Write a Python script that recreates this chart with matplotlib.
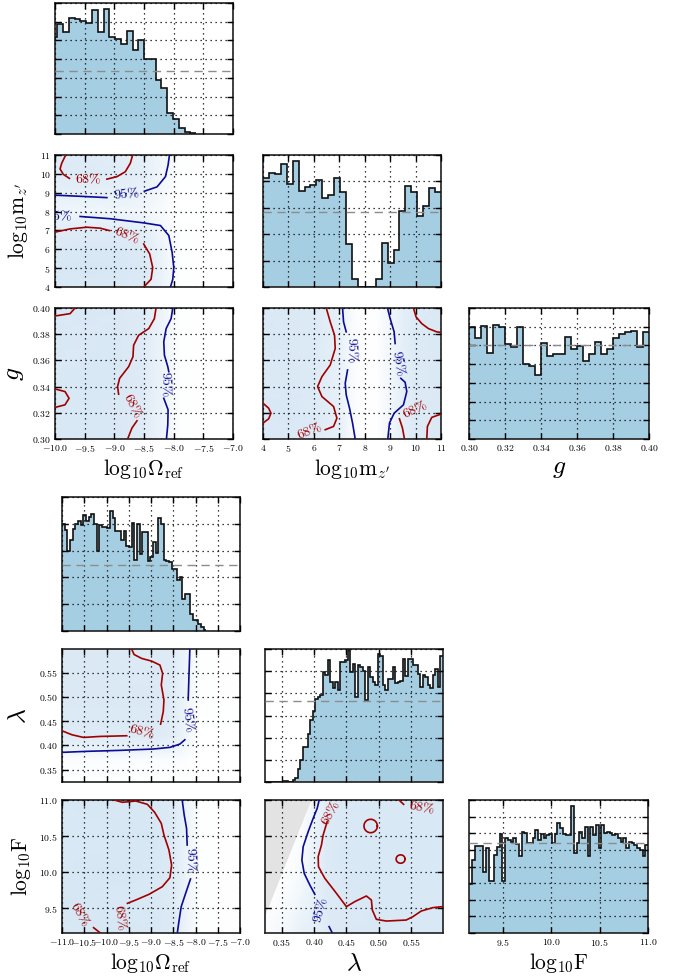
import numpy as np
import matplotlib
matplotlib.use("Agg")
import matplotlib.pyplot as plt
from matplotlib.colors import LinearSegmentedColormap
from matplotlib.ticker import FixedLocator, NullFormatter

plt.rcParams['font.family'] = 'serif'
plt.rcParams['font.serif'] = ['cmr10']
plt.rcParams['mathtext.fontset'] = 'cm'
plt.rcParams['axes.formatter.use_mathtext'] = True
plt.rcParams['axes.unicode_minus'] = True

# ---------------- first run: Omega_ref, m_z', g ----------------
om_ticks = [-10.0, -9.5, -9.0, -8.5, -8.0, -7.5, -7.0]
mz_ticks = [4, 5, 6, 7, 8, 9, 10, 11]
g_ticks = [0.30, 0.32, 0.34, 0.36, 0.38, 0.40]

om_hist_edges = np.linspace(-10.0585, -7.621, 26)
om_hist = [5.17, 5.88, 5.45, 6.19, 6.13, 6.06, 5.92, 6.63, 5.47, 6.67, 5.17, 5.06, 4.81,
           5.51, 4.48, 5.03, 4.01, 4.01, 2.89, 2.44, 1.14, 0.80, 0.30, 0.09, 0.03]
om_hist_mean = 3.37

mz_hist_edges = np.linspace(4.0, 11.0, 31)
mz_hist = [4.11, 4.30, 4.29, 4.66, 3.91, 4.77, 3.63, 3.80, 3.86, 4.05, 3.38, 3.48, 4.11, 3.61, 1.61,
           0.32, 0.0, 0.0, 0.0, 0.32, 1.68, 0.91, 1.42, 2.87, 3.84, 3.58, 2.68, 3.06, 3.76, 3.61]
mz_hist_mean = 2.85

g_hist_edges = np.linspace(0.30, 0.40, 31)
g_hist = [5.97, 5.38, 6.06, 4.58, 6.10, 5.97, 5.06, 4.94, 6.00, 3.99, 3.92, 3.42, 5.12, 4.44, 4.53,
          4.55, 5.47, 4.80, 4.99, 4.19, 4.53, 5.20, 4.55, 4.80, 5.42, 5.62, 5.74, 5.79, 4.90, 5.74]
g_hist_mean = 5.0

# sample density (relative) on coarse grids
om_nodes = [-10.0, -9.5, -9.0, -8.5, -8.2, -7.9, -7.5, -7.0]
mz_nodes = [4, 5, 6, 7, 8, 9, 10, 11]
om_mz_dens = [[0.80, 0.85, 0.85, 0.75, 0.45, 0.05, 0, 0],
              [0.85, 0.90, 0.85, 0.80, 0.45, 0.05, 0, 0],
              [0.80, 0.85, 0.85, 0.75, 0.40, 0.05, 0, 0],
              [0.70, 0.70, 0.70, 0.60, 0.30, 0.05, 0, 0],
              [0.35, 0.35, 0.35, 0.30, 0.15, 0.00, 0, 0],
              [0.55, 0.55, 0.55, 0.45, 0.25, 0.00, 0, 0],
              [0.75, 0.75, 0.70, 0.60, 0.30, 0.05, 0, 0],
              [0.70, 0.70, 0.65, 0.55, 0.30, 0.05, 0, 0]]
g_nodes = [0.30, 0.325, 0.35, 0.375, 0.40]
om_g_dens = [[0.80, 0.85, 0.85, 0.70, 0.40, 0.05, 0, 0],
             [0.85, 0.85, 0.80, 0.70, 0.40, 0.05, 0, 0],
             [0.80, 0.85, 0.85, 0.70, 0.40, 0.05, 0, 0],
             [0.85, 0.80, 0.85, 0.70, 0.40, 0.05, 0, 0],
             [0.80, 0.85, 0.80, 0.70, 0.40, 0.05, 0, 0]]
mz_nodes_fine = [4, 5, 6, 7, 7.5, 8, 8.5, 9, 9.5, 10, 11]
mz_g_dens = [[0.80, 0.80, 0.75, 0.55, 0.15, 0, 0.05, 0.30, 0.60, 0.75, 0.80],
             [0.80, 0.85, 0.75, 0.55, 0.15, 0, 0.05, 0.30, 0.60, 0.75, 0.80],
             [0.80, 0.80, 0.75, 0.50, 0.15, 0, 0.05, 0.30, 0.60, 0.75, 0.80],
             [0.85, 0.80, 0.75, 0.55, 0.15, 0, 0.05, 0.30, 0.60, 0.75, 0.80],
             [0.80, 0.80, 0.75, 0.55, 0.15, 0, 0.05, 0.30, 0.60, 0.75, 0.80]]

# credible-region contours (68% red, 95% blue), split where labels sit
om_mz_68a = [(-9.82, 11.0), (-9.887, 10.56), (-9.915, 10.26), (-9.859, 9.97), (-9.757, 9.76)]
om_mz_68b = [(-9.126, 9.72), (-8.957, 9.85), (-8.816, 10.11), (-8.731, 10.56), (-8.691, 11.0)]
om_mz_68c = [(-10.0, 6.91), (-9.746, 7.08), (-9.464, 7.17), (-9.239, 7.12), (-9.081, 6.99)]
om_mz_68d = [(-8.505, 6.28), (-8.404, 5.75), (-8.353, 5.03), (-8.381, 4.41), (-8.505, 4.0)]
om_mz_95a = [(-10.0, 8.87), (-9.577, 8.81), (-9.126, 8.74)]
om_mz_95b = [(-8.494, 9.08), (-8.28, 9.31), (-8.139, 9.85), (-8.094, 10.47), (-8.071, 11.0)]
om_mz_95c = [(-9.577, 7.74), (-9.069, 7.62), (-8.505, 7.40), (-8.223, 7.26), (-8.082, 6.73),
             (-8.026, 5.84), (-7.998, 5.03), (-8.015, 4.41), (-8.054, 4.0)]
om_mz_labels = [(-9.45, 9.68, '68%', 0, 'r'), (-8.79, 6.69, '68%', -22, 'r'),
                (-8.80, 8.88, '95%', 6, 'b'), (-9.93, 7.70, '95%', 0, 'b')]

om_g_68a = [(-10.0, 0.3939), (-9.746, 0.3957), (-9.662, 0.40)]
om_g_68b = [(-10.0, 0.3382), (-9.831, 0.3362), (-9.763, 0.3311), (-9.831, 0.3261), (-10.0, 0.3241)]
om_g_68c = [(-8.297, 0.40), (-8.325, 0.3919), (-8.42, 0.3843), (-8.59, 0.3792), (-8.675, 0.3716),
            (-8.686, 0.3628), (-8.759, 0.3552), (-8.911, 0.3463), (-8.945, 0.34), (-8.928, 0.3342)]
om_g_68d = [(-8.618, 0.3139), (-8.703, 0.3084), (-8.776, 0.30)]
om_g_95a = [(-8.015, 0.40), (-8.043, 0.3919), (-8.127, 0.3843), (-8.167, 0.3742), (-8.156, 0.364),
            (-8.099, 0.3552), (-8.082, 0.3514)]
om_g_95b = [(-8.167, 0.3311), (-8.094, 0.3223), (-8.099, 0.3109), (-8.122, 0.30)]
om_g_labels = [(-8.70, 0.3250, '68%', -62, 'r'), (-8.15, 0.3415, '95%', -88, 'b')]

mz_g_68a = [(6.487, 0.40), (6.644, 0.3894), (6.814, 0.3792), (6.84, 0.3691), (6.644, 0.3565),
            (6.317, 0.3476), (6.147, 0.34), (6.317, 0.3324), (6.775, 0.3248), (6.906, 0.3159),
            (6.775, 0.3096), (6.448, 0.3071)]
mz_g_68b = [(4.0, 0.3273), (4.223, 0.3235), (4.314, 0.3197), (4.223, 0.3154), (4.0, 0.3122)]
mz_g_68c = [(9.916, 0.40), (10.02, 0.3932), (10.243, 0.3881), (10.505, 0.3843), (10.832, 0.3818),
            (11.0, 0.3813)]
mz_g_68d = [(9.366, 0.3154), (9.484, 0.3084), (9.563, 0.30)]
mz_g_68e = [(10.44, 0.30), (10.466, 0.3096), (10.636, 0.3165), (11.0, 0.319)]
mz_g_95a = [(7.128, 0.40), (7.168, 0.3894), (7.272, 0.3818)]
mz_g_95b = [(7.325, 0.3527), (7.233, 0.3425), (7.272, 0.3337), (7.403, 0.3235), (7.521, 0.3122),
            (7.626, 0.30)]
mz_g_95c = [(8.895, 0.40), (9.0, 0.3919), (9.157, 0.3818), (9.196, 0.3729)]
mz_g_95d = [(9.419, 0.3463), (9.589, 0.3433), (9.654, 0.3362), (9.524, 0.3261), (9.157, 0.3197),
            (8.974, 0.3122), (8.908, 0.30)]
mz_g_labels = [(5.86, 0.3053, '68%', 22, 'r'), (9.98, 0.3223, '68%', 25, 'r'),
               (7.43, 0.3671, '95%', -88, 'b'), (9.29, 0.3577, '95%', -80, 'b')]

# ---------------- second run: Omega_ref, lambda, F ----------------
om2_ticks = [-11.0, -10.5, -10.0, -9.5, -9.0, -8.5, -8.0, -7.5, -7.0]
lam_ticks = [0.35, 0.40, 0.45, 0.50, 0.55]
f_ticks = [9.5, 10.0, 10.5, 11.0]
lam_range = (0.3244, 0.599)
f_range = (9.153, 11.0)

om2_hist_edges = np.linspace(-11.0, -7.754, 55)
om2_hist = [3.98, 3.78, 3.00, 3.40, 3.81, 3.98, 4.10, 3.94, 4.31, 4.12, 4.27, 4.37, 4.00, 2.97,
            3.94, 3.88, 3.88, 3.85, 4.47, 4.22, 3.75, 3.73, 3.38, 3.75, 3.19, 3.13, 4.02, 2.66,
            4.00, 2.86, 3.69, 3.69, 2.63, 2.76, 3.32, 2.91, 4.22, 4.00, 2.66, 2.63, 2.57, 2.32,
            2.32, 1.91, 2.01, 1.20, 1.39, 1.37, 0.62, 0.42, 0.42, 0.25, 0.15, 0.05]
om2_hist_mean = 2.48

lam_hist_edges = np.linspace(0.3244, 0.599, 72)
lam_hist = [0, 0, 0, 0, 0, 0, 0, 0.05, 0.05, 0, 0, 0.10, 0.18, 0.60, 0.98, 1.58, 1.58, 2.18,
            2.78, 3.19, 3.76, 3.83, 3.94, 4.96, 4.84, 5.49, 4.51, 4.24, 4.51, 4.14, 5.41, 5.41,
            5.49, 5.94, 4.96, 5.34, 3.83, 5.29, 5.19, 4.99, 3.68, 5.19, 4.74, 4.51, 4.39, 5.79,
            5.68, 4.39, 4.14, 4.66, 4.66, 5.19, 4.47, 4.51, 4.54, 5.56, 4.80, 5.56, 5.53, 5.26,
            5.26, 4.89, 4.29, 4.84, 4.74, 4.36, 4.24, 4.84, 5.10, 4.30, 5.67]
lam_hist_mean = 3.64

f_hist_edges = np.linspace(9.156, 11.0, 66)
f_hist = [2.94, 4.40, 5.24, 5.24, 5.24, 3.66, 5.10, 3.14, 3.14, 4.70, 5.20, 5.94, 3.10, 5.74,
          5.60, 5.50, 5.70, 5.34, 4.66, 6.10, 6.00, 5.40, 5.40, 5.70, 6.20, 5.60, 5.94, 5.70,
          5.90, 5.94, 5.40, 5.94, 6.60, 6.34, 5.94, 5.90, 5.90, 7.66, 4.80, 5.40, 6.10, 5.70,
          6.40, 4.66, 6.40, 5.90, 6.50, 5.10, 6.50, 6.00, 6.10, 6.00, 5.90, 5.94, 5.70, 5.50,
          5.70, 5.10, 5.50, 5.40, 5.30, 5.10, 5.00, 4.66, 5.30]
f_hist_mean = 5.4

om2_nodes = [-11.0, -10.0, -9.0, -8.5, -8.2, -7.9, -7.0]
lam_nodes = [0.3244, 0.37, 0.39, 0.42, 0.50, 0.599]
om_lam_dens = [[0.05, 0.05, 0.05, 0.05, 0.00, 0, 0],
               [0.10, 0.10, 0.10, 0.10, 0.05, 0, 0],
               [0.45, 0.45, 0.45, 0.40, 0.20, 0, 0],
               [0.75, 0.75, 0.75, 0.65, 0.30, 0, 0],
               [0.80, 0.80, 0.80, 0.70, 0.35, 0.05, 0],
               [0.80, 0.80, 0.75, 0.70, 0.35, 0.05, 0]]
f_nodes = [9.153, 9.6, 10.0, 10.5, 11.0]
om_f_dens = [[0.85, 0.90, 0.85, 0.75, 0.40, 0.05, 0],
             [0.90, 0.85, 0.85, 0.75, 0.40, 0.05, 0],
             [0.85, 0.90, 0.85, 0.75, 0.40, 0.05, 0],
             [0.85, 0.85, 0.90, 0.75, 0.40, 0.05, 0],
             [0.85, 0.90, 0.85, 0.75, 0.40, 0.05, 0]]
lam_nodes_fine = [0.3244, 0.36, 0.38, 0.40, 0.42, 0.45, 0.50, 0.55, 0.599]
lam_f_dens = [[0.10, 0.30, 0.50, 0.60, 0.70, 0.80, 0.85, 0.85, 0.85],
              [0.00, 0.15, 0.35, 0.55, 0.75, 0.80, 0.85, 0.85, 0.85],
              [0.00, 0.05, 0.20, 0.50, 0.75, 0.85, 0.85, 0.85, 0.85],
              [0.00, 0.00, 0.10, 0.45, 0.75, 0.85, 0.85, 0.85, 0.85],
              [0.00, 0.00, 0.00, 0.30, 0.70, 0.80, 0.85, 0.85, 0.85]]
# prior-excluded corner in (lambda, F)
excluded_lam = [0.3244, 0.396, 0.3244]
excluded_f = [11.0, 11.0, 9.384]

om_lam_68a = [(-9.433, 0.5986), (-9.381, 0.5877), (-9.209, 0.5795), (-8.985, 0.574), (-8.799, 0.5658),
              (-8.739, 0.5486), (-8.769, 0.5247), (-8.709, 0.4938), (-8.724, 0.4699), (-8.784, 0.4438)]
om_lam_68b = [(-11.0, 0.4301), (-10.776, 0.4219), (-10.515, 0.4164), (-10.142, 0.4185), (-9.545, 0.4199)]
om_lam_95a = [(-11.0, 0.3856), (-10.44, 0.3877), (-9.694, 0.3897), (-8.948, 0.3925), (-8.575, 0.3959),
              (-8.351, 0.4027), (-8.239, 0.4116)]
om_lam_95b = [(-8.164, 0.4938), (-8.149, 0.5384), (-8.127, 0.5986)]
om_lam_labels = [(-9.21, 0.4253, '68%', -15, 'r'), (-8.19, 0.4527, '95%', -82, 'b')]

om_f_68a = [(-9.828, 11.0), (-9.642, 10.968), (-9.343, 10.986), (-9.082, 10.94), (-8.918, 10.829),
            (-8.769, 10.676), (-8.709, 10.514), (-8.597, 10.306), (-8.537, 10.097), (-8.575, 9.921),
            (-8.746, 9.796), (-9.045, 9.69), (-9.343, 9.611), (-9.530, 9.565)]
om_f_68b = [(-10.291, 9.227), (-10.127, 9.148)]
om_f_95a = [(-8.299, 11.0), (-8.254, 10.792), (-8.201, 10.606), (-8.187, 10.375)]
om_f_95b = [(-8.112, 9.903), (-8.209, 9.727), (-8.321, 9.519), (-8.373, 9.31), (-8.41, 9.148)]
om_f_labels = [(-9.72, 9.356, '68%', -82, 'r'), (-10.61, 9.40, '68%', -60, 'r'),
               (-8.134, 10.153, '95%', -88, 'b')]

lam_f_68a = [(0.4203, 10.699), (0.4141, 10.514), (0.4115, 10.375), (0.4064, 10.213), (0.4069, 10.074),
             (0.4167, 9.912), (0.4346, 9.704), (0.45, 9.519), (0.4628, 9.588), (0.4808, 9.667),
             (0.4885, 9.611), (0.49, 9.472), (0.4962, 9.343), (0.5115, 9.319), (0.5423, 9.333),
             (0.5526, 9.38), (0.5654, 9.458), (0.5833, 9.505), (0.599, 9.52)]
lam_f_68b = [(0.531, 11.0), (0.5382, 10.94)]
lam_f_68_islands = [(0.4874, 10.639, 0.0103, 0.093), (0.5336, 10.18, 0.0069, 0.058)]
lam_f_95a = [(0.408, 11.0), (0.4049, 10.884), (0.3987, 10.745), (0.391, 10.56), (0.3833, 10.352),
             (0.3813, 10.167), (0.3849, 9.981), (0.3936, 9.819), (0.4013, 9.69)]
lam_f_95b = [(0.4233, 9.241), (0.4285, 9.148)]
lam_f_labels = [(0.427, 10.815, '68%', 62, 'r'), (0.566, 10.884, '68%', -10, 'r'),
                (0.4115, 9.472, '95%', 75, 'b')]

# ---------------- drawing ----------------
W, H = 678.0, 977.0
RED = '#a00000'
BLUE = '#0b0b96'
FILL = '#a6cee3'
wash = LinearSegmentedColormap.from_list('wash', ['#ffffff', '#d2e4f3'])

OM_LABEL = r'$\mathrm{log}_{10}\Omega_{\rm ref}$'
MZ_LABEL = r"$\mathrm{log}_{10}\mathrm{m}_{z'}$"
F_LABEL = r'$\mathrm{log}_{10}\mathrm{F}$'


def new_ax(fig, x0, y0, x1, y1):
    ax = fig.add_axes([x0 / W, 1 - y1 / H, (x1 - x0) / W, (y1 - y0) / H])
    for s in ax.spines.values():
        s.set_linewidth(1.2)
        s.set_color('#202020')
    ax.tick_params(direction='in', top=True, right=True, length=4, width=1,
                   labelsize=7, pad=3)
    ax.grid(True, color='k', linestyle=(0, (1, 3)), linewidth=0.9)
    ax.set_axisbelow(False)
    return ax


def setup(ax, xt, xlim, yt, ylim, xlab=False, ylab=False):
    ax.xaxis.set_major_locator(FixedLocator(xt))
    ax.yaxis.set_major_locator(FixedLocator(yt))
    ax.set_xlim(*xlim)
    ax.set_ylim(*ylim)
    if not xlab:
        ax.xaxis.set_major_formatter(NullFormatter())
    if not ylab:
        ax.yaxis.set_major_formatter(NullFormatter())


def draw_hist(ax, edges, heights, mean):
    ax.stairs(heights, edges, fill=True, color=FILL, zorder=1)
    ax.stairs(heights, edges, color='#111111', linewidth=1.2, baseline=None, zorder=3)
    ax.axhline(mean, color='#8c8c8c', linestyle=(0, (6, 4)), linewidth=1.0, zorder=3)


def draw_dens(ax, xs, ys, z):
    ax.pcolormesh(xs, ys, np.array(z), shading='gouraud', cmap=wash, vmin=0, vmax=1, zorder=0)


def draw_line(ax, pts, c):
    p = np.array(pts)
    ax.plot(p[:, 0], p[:, 1], color=RED if c == 'r' else BLUE, linewidth=1.2, zorder=4)


def draw_labels(ax, labels):
    for x, y, s, rot, c in labels:
        ax.text(x, y, s, rotation=rot, color=RED if c == 'r' else BLUE, fontsize=10,
                ha='center', va='center', rotation_mode='anchor', clip_on=True, zorder=5)


fig = plt.figure(figsize=(6.78, 9.77), dpi=100)
LS = 15.5

# first triangle
c0, c1, c2 = (55, 233), (263, 441), (469, 649)
r0, r1, r2 = (3, 134), (155, 287), (308, 439)
om_lim = (-10.0, -7.0)
mz_lim = (4.0, 11.0)
g_lim = (0.30, 0.40)

ax = new_ax(fig, c0[0], r0[0], c0[1], r0[1])
draw_hist(ax, om_hist_edges, om_hist, om_hist_mean)
setup(ax, om_ticks, om_lim, range(0, 8), (0, 7))

ax = new_ax(fig, c0[0], r1[0], c0[1], r1[1])
draw_dens(ax, om_nodes, mz_nodes, om_mz_dens)
for seg, c in [(om_mz_68a, 'r'), (om_mz_68b, 'r'), (om_mz_68c, 'r'), (om_mz_68d, 'r'),
               (om_mz_95a, 'b'), (om_mz_95b, 'b'), (om_mz_95c, 'b')]:
    draw_line(ax, seg, c)
draw_labels(ax, om_mz_labels)
setup(ax, om_ticks, om_lim, mz_ticks, mz_lim, ylab=True)
ax.set_ylabel(MZ_LABEL, fontsize=LS, labelpad=7)

ax = new_ax(fig, c0[0], r2[0], c0[1], r2[1])
draw_dens(ax, om_nodes, g_nodes, om_g_dens)
for seg, c in [(om_g_68a, 'r'), (om_g_68b, 'r'), (om_g_68c, 'r'), (om_g_68d, 'r'),
               (om_g_95a, 'b'), (om_g_95b, 'b')]:
    draw_line(ax, seg, c)
draw_labels(ax, om_g_labels)
setup(ax, om_ticks, om_lim, g_ticks, g_lim, xlab=True, ylab=True)
ax.set_xlabel(OM_LABEL, fontsize=LS, labelpad=2)
ax.set_ylabel(r'$g$', fontsize=LS + 3, labelpad=4)

ax = new_ax(fig, c1[0], r1[0], c1[1], r1[1])
draw_hist(ax, mz_hist_edges, mz_hist, mz_hist_mean)
setup(ax, mz_ticks, mz_lim, range(0, 6), (0, 5))

ax = new_ax(fig, c1[0], r2[0], c1[1], r2[1])
draw_dens(ax, mz_nodes_fine, g_nodes, mz_g_dens)
for seg, c in [(mz_g_68a, 'r'), (mz_g_68b, 'r'), (mz_g_68c, 'r'), (mz_g_68d, 'r'), (mz_g_68e, 'r'),
               (mz_g_95a, 'b'), (mz_g_95b, 'b'), (mz_g_95c, 'b'), (mz_g_95d, 'b')]:
    draw_line(ax, seg, c)
draw_labels(ax, mz_g_labels)
setup(ax, mz_ticks, mz_lim, g_ticks, g_lim, xlab=True)
ax.set_xlabel(MZ_LABEL, fontsize=LS, labelpad=2)

ax = new_ax(fig, c2[0], r2[0], c2[1], r2[1])
draw_hist(ax, g_hist_edges, g_hist, g_hist_mean)
setup(ax, g_ticks, g_lim, range(0, 8), (0, 7), xlab=True)
ax.set_xlabel(r'$g$', fontsize=LS + 3, labelpad=2)

# second triangle
d0, d1, d2 = (62, 240), (265, 443), (469, 648)
s0, s1, s2 = (497, 631), (649, 782), (800, 933)
om2_lim = (-11.0, -7.0)

ax = new_ax(fig, d0[0], s0[0], d0[1], s0[1])
draw_hist(ax, om2_hist_edges, om2_hist, om2_hist_mean)
setup(ax, om2_ticks, om2_lim, range(0, 6), (0, 5))

ax = new_ax(fig, d0[0], s1[0], d0[1], s1[1])
draw_dens(ax, om2_nodes, lam_nodes, om_lam_dens)
for seg, c in [(om_lam_68a, 'r'), (om_lam_68b, 'r'), (om_lam_95a, 'b'), (om_lam_95b, 'b')]:
    draw_line(ax, seg, c)
draw_labels(ax, om_lam_labels)
setup(ax, om2_ticks, om2_lim, lam_ticks, lam_range, ylab=True)
ax.set_ylabel(r'$\lambda$', fontsize=LS + 3, labelpad=6)

ax = new_ax(fig, d0[0], s2[0], d0[1], s2[1])
draw_dens(ax, om2_nodes, f_nodes, om_f_dens)
for seg, c in [(om_f_68a, 'r'), (om_f_68b, 'r'), (om_f_95a, 'b'), (om_f_95b, 'b')]:
    draw_line(ax, seg, c)
draw_labels(ax, om_f_labels)
setup(ax, om2_ticks, om2_lim, f_ticks, f_range, xlab=True, ylab=True)
ax.set_xlabel(OM_LABEL, fontsize=LS, labelpad=2)
ax.set_ylabel(F_LABEL, fontsize=LS, labelpad=4)

ax = new_ax(fig, d1[0], s1[0], d1[1], s1[1])
draw_hist(ax, lam_hist_edges, lam_hist, lam_hist_mean)
setup(ax, lam_ticks, lam_range, range(0, 7), (0, 6))

ax = new_ax(fig, d1[0], s2[0], d1[1], s2[1])
draw_dens(ax, lam_nodes_fine, f_nodes, lam_f_dens)
ax.fill(excluded_lam, excluded_f, color='#e3e3e3', linewidth=0, zorder=1)
for seg, c in [(lam_f_68a, 'r'), (lam_f_68b, 'r'), (lam_f_95a, 'b'), (lam_f_95b, 'b')]:
    draw_line(ax, seg, c)
t = np.linspace(0, 2 * np.pi, 60)
for cx, cy, rx, ry in lam_f_68_islands:
    ax.plot(cx + rx * np.cos(t), cy + ry * np.sin(t), color=RED, linewidth=1.2, zorder=4)
draw_labels(ax, lam_f_labels)
setup(ax, lam_ticks, lam_range, f_ticks, f_range, xlab=True)
ax.set_xlabel(r'$\lambda$', fontsize=LS + 3, labelpad=2)

ax = new_ax(fig, d2[0], s2[0], d2[1], s2[1])
draw_hist(ax, f_hist_edges, f_hist, f_hist_mean)
setup(ax, f_ticks, f_range, range(0, 9), (0, 8), xlab=True)
ax.set_xlabel(F_LABEL, fontsize=LS, labelpad=2)

fig.savefig('out.png', dpi=100)
